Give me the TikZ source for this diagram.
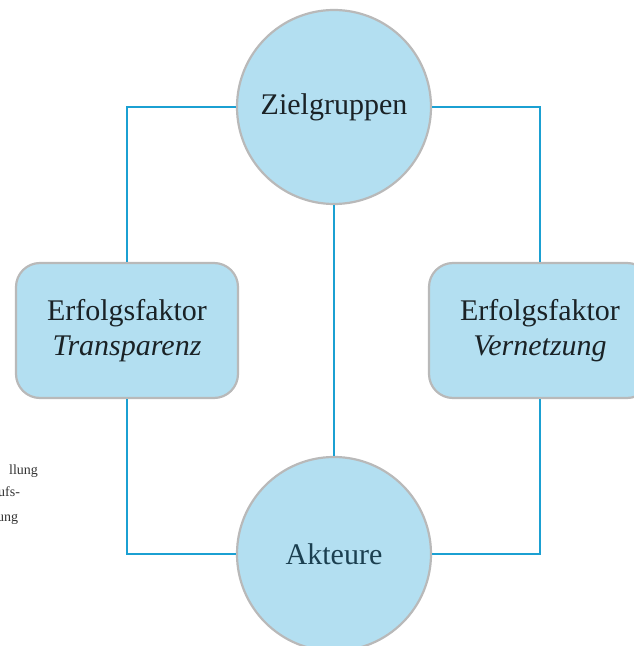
\documentclass[tikz,border=0pt]{standalone}
\usepackage{fontspec}
\setmainfont{Liberation Serif}
\begin{document}
\begin{tikzpicture}[x=1pt,y=1pt,
  conn/.style={draw=linecol, line width=2.2pt},
  bubble/.style={circle, draw=bordercol, line width=2.2pt, fill=fillcol, minimum size=194pt, inner sep=0pt, text=txtcol, font=\fontsize{30}{35}\selectfont},
  factor/.style={rounded corners=24pt, draw=bordercol, line width=2.2pt, fill=fillcol, minimum width=222pt, minimum height=135pt, inner sep=0pt, text=txtcol, align=center, font=\fontsize{30}{35}\selectfont},
  caption/.style={anchor=base west, inner sep=0pt, text=captcol, font=\fontsize{14}{17}\selectfont}
]
\definecolor{linecol}{HTML}{1BA0D2}
\definecolor{fillcol}{HTML}{B3DFF1}
\definecolor{bordercol}{HTML}{B9B9B9}
\definecolor{txtcol}{HTML}{1A2226}
\definecolor{akcol}{HTML}{1B3F50}
\definecolor{captcol}{HTML}{333333}
\useasboundingbox (0,0) rectangle (634,646);
\clip (0,0) rectangle (634,646);
\node[bubble] (Z) at (334,539) {Zielgruppen};
\node[bubble, text=akcol] (A) at (334,92) {Akteure};
\node[factor] (L) at (127,315.5) {Erfolgsfaktor\\\textit{Transparenz}};
\node[factor] (R) at (540,315.5) {Erfolgsfaktor\\\textit{Vernetzung}};
\draw[conn] (Z.west) -| (L.north);
\draw[conn] (L.south) |- (A.west);
\draw[conn] (Z.east) -| (R.north);
\draw[conn] (R.south) |- (A.east);
\draw[conn] (Z.south) -- (A.north);
\node[caption] (c1) at (9,171) {llung};
\node[caption] (c2) at (-2,149) {ufs-};
\node[caption] (c3) at (-3,124) {ung};
\end{tikzpicture}
\end{document}
